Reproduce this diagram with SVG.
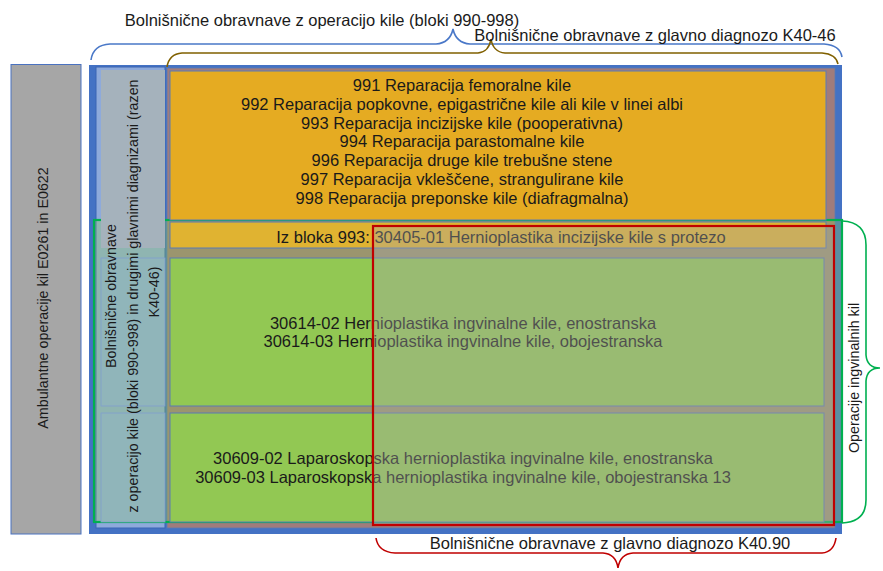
<svg xmlns="http://www.w3.org/2000/svg" width="883" height="571" viewBox="0 0 883 571">
<style>
text{font-family:"Liberation Sans",Arial,sans-serif;fill:#1a1a1a}
.m{font-size:16.5px;text-anchor:middle}
.s{font-size:14.3px;text-anchor:middle}
.brace{fill:none;stroke-width:1.6}
.row{stroke:#5a7ab4;stroke-width:1}
</style>
<rect width="883" height="571" fill="#ffffff"/>
<g id="ambulantne">
<rect x="11" y="64.5" width="70" height="469.5" fill="#a6a6a6" stroke="#4a72c0" stroke-width="1"/>
<text class="s" transform="translate(47.5,298) rotate(-90)">Ambulantne operacije kil E0261 in E0622</text>
</g>
<g id="bloki-990-998">
<rect x="89" y="65" width="753" height="469" fill="#4472c4"/>
</g>
<g id="k40-46">
<rect x="167" y="68" width="668" height="460" fill="#a07c7c" stroke="#5a7ab4" stroke-width="0.8"/>
</g>
<g id="druge-diagnoze">
<rect x="96" y="67" width="69" height="461" fill="#8eaadb" stroke="#3b64b4" stroke-width="1"/>
</g>
<g id="ingvinalne">
<rect x="94" y="220" width="748" height="302" fill="#92d050" fill-opacity="0.3" stroke="#00b050" stroke-width="2.2"/>
</g>
<g id="strip-rows">
<rect x="101" y="70" width="64" height="178" fill="#a5b2bc"/>
<rect x="101" y="258" width="64" height="148" fill="#90b5ba" stroke="#7f9fd0" stroke-width="0.8"/>
<rect x="101" y="413" width="64" height="109" fill="#90b5ba" stroke="#7f9fd0" stroke-width="0.8"/>
<text class="s" transform="translate(115.5,296) rotate(-90)">Bolnišnične obravnave</text>
<text class="s" transform="translate(137.5,296) rotate(-90)">z operacijo kile (bloki 990-998) in drugimi glavnimi diagnizami (razen</text>
<text class="s" transform="translate(158.5,292) rotate(-90)">K40-46)</text>
</g>
<g id="bloki-991-998">
<rect class="row" x="170" y="71" width="656" height="149" fill="#e5ab22"/>
<text class="m" x="462" y="91">991 Reparacija femoralne kile</text>
<text class="m" x="462" y="109.8">992 Reparacija popkovne, epigastrične kile ali kile v linei albi</text>
<text class="m" x="462" y="128.6">993 Reparacija incizijske kile (pooperativna)</text>
<text class="m" x="462" y="147.4">994 Reparacija parastomalne kile</text>
<text class="m" x="462" y="166.2">996 Reparacija druge kile trebušne stene</text>
<text class="m" x="462" y="185">997 Reparacija vkleščene, strangulirane kile</text>
<text class="m" x="462" y="203.8">998 Reparacija preponske kile (diafragmalna)</text>
</g>
<g id="blok-993-30405">
<rect class="row" x="170" y="222" width="656" height="26" fill="#e0b331"/>
<text class="m" x="501" y="242.5">Iz bloka 993: 30405-01 Hernioplastika incizijske kile s protezo</text>
</g>
<g id="hernioplastika-30614">
<rect class="row" x="170" y="258" width="654" height="148" fill="#92c853"/>
<text class="m" x="463" y="328.5">30614-02 Hernioplastika ingvinalne kile, enostranska</text>
<text class="m" x="463" y="347">30614-03 Hernioplastika ingvinalne kile, obojestranska</text>
</g>
<g id="laparoskopska-30609">
<rect class="row" x="170" y="413" width="654" height="109" fill="#92c853"/>
<text class="m" x="463" y="463.5">30609-02 Laparoskopska hernioplastika ingvinalne kile, enostranska</text>
<text class="m" x="463" y="482.5">30609-03 Laparoskopska hernioplastika ingvinalne kile, obojestranska 13</text>
</g>
<g id="k40-90">
<rect x="373" y="226" width="461" height="299" fill="#a5a5a5" fill-opacity="0.38" stroke="#c00000" stroke-width="2.2"/>
</g>
<g id="connectors">
<path class="brace" stroke="#4a78c8" d="M91 60 Q93 45 110 44 L436 44 Q450 43 453 29 Q456 43 470 44 L824 44 Q840 45 842 57"/>
<path class="brace" stroke="#806000" d="M167 67 Q169 54 182 53 L478 53 Q489 52 491 39 Q493 52 505 53 L822 53 Q836 54 838 64"/>
<path class="brace" stroke="#c00000" d="M376 538 Q378 552 395 553 L603 553 Q616 554 618 568 Q620 554 633 553 L822 553 Q834 552 836 538"/>
<path class="brace" stroke="#00b050" d="M842 221 Q866 222 866 245 L866 355 Q867 368 880 368 Q867 368 866 381 L866 500 Q866 522 842 523"/>
</g>
<g id="labels">
<text class="m" x="322" y="25.5">Bolnišnične obravnave z operacijo kile (bloki 990-998)</text>
<text class="m" x="655" y="40.5">Bolnišnične obravnave z glavno diagnozo K40-46</text>
<text class="m" x="610" y="548.5">Bolnišnične obravnave z glavno diagnozo K40.90</text>
<text class="s" transform="translate(858.5,378) rotate(-90)">Operacije ingvinalnih kil</text>
</g>
</svg>
